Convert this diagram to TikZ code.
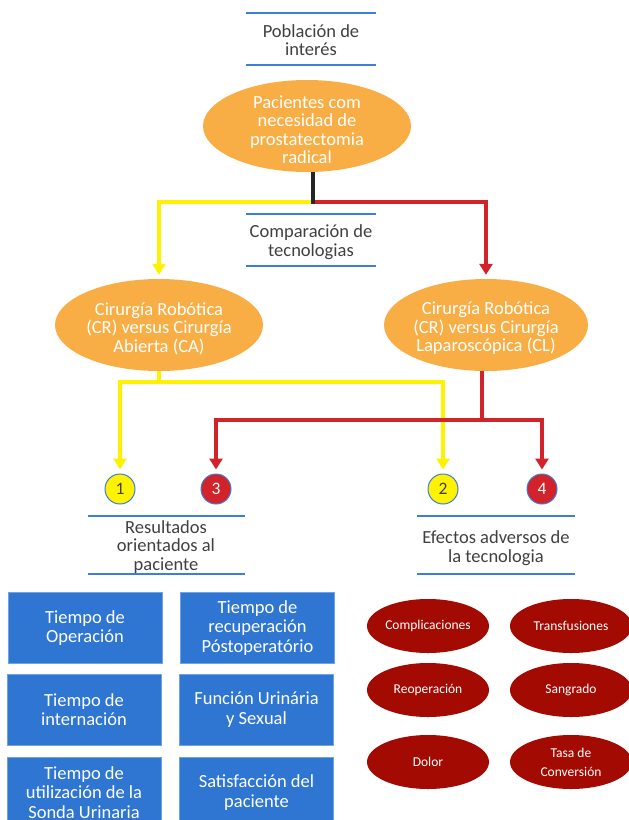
\documentclass[tikz,border=0pt]{standalone}
\usepackage{fontspec}
\setmainfont{Carlito}
\usetikzlibrary{shapes.geometric,arrows.meta}
\definecolor{orng}{HTML}{F9AE45}
\definecolor{ylw}{HTML}{FFF200}
\definecolor{rd}{HTML}{D2232A}
\definecolor{bl}{HTML}{3E7FD6}
\definecolor{boxc}{HTML}{2F76D3}
\definecolor{boxe}{HTML}{6FA3E8}
\definecolor{dred}{HTML}{A30B02}
\definecolor{txt}{HTML}{404040}
\begin{document}
\begin{tikzpicture}[x=1pt,y=-1pt,
  mainfont/.style={font=\fontsize{18.5}{18.5}\selectfont},
  lbl/.style={mainfont,align=center,text=txt,inner sep=0pt},
  bigell/.style={ellipse,fill=orng,minimum width=208,minimum height=92,inner sep=0pt},
  elltext/.style={mainfont,align=center,text=white,inner sep=0pt,yshift=-3.5pt},
  bluebox/.style={rectangle,fill=boxc,draw=boxe,line width=0.8pt,minimum width=154,minimum height=71,text=white,align=center,font=\fontsize{18.5}{19.5}\selectfont,inner sep=0pt},
  redell/.style={ellipse,fill=dred,minimum width=122,minimum height=54,text=white,align=center,font=\fontsize{13.5}{19}\selectfont,inner sep=-4pt},
  numy/.style={circle,fill=ylw,draw=bl,line width=1pt,minimum size=30,inner sep=0pt,text=txt,font=\fontsize{17.5}{18}\selectfont},
  numr/.style={circle,fill=rd,draw=bl,line width=1pt,minimum size=30,inner sep=0pt,text=white,font=\fontsize{17.5}{18}\selectfont},
  rule/.style={draw=bl,line width=2pt},
  yline/.style={draw=ylw,line width=4pt},
  rline/.style={draw=rd,line width=4pt},
  arr/.style={-{Triangle[width=13pt,length=11pt]},shorten >=4pt},
]
\useasboundingbox (0,0) rectangle (629,820);

% header labels with rules
\node[lbl] (pob) at (311,40) {Población de\\interés};
\coordinate (pobL1) at (246,13); \coordinate (pobR1) at (376,13);
\coordinate (pobL2) at (246,65); \coordinate (pobR2) at (376,65);
\draw[rule] (pobL1) -- (pobR1);
\draw[rule] (pobL2) -- (pobR2);

\node[lbl] (comp) at (311,242) {Comparación de\\tecnologias};
\coordinate (compL1) at (246,214); \coordinate (compR1) at (376,214);
\coordinate (compL2) at (246,266); \coordinate (compR2) at (376,266);
\draw[rule] (compL1) -- (compR1);
\draw[rule] (compL2) -- (compR2);

\node[lbl] (res) at (166,547) {Resultados\\orientados al\\paciente};
\coordinate (resL1) at (88,516); \coordinate (resR1) at (245,516);
\coordinate (resL2) at (88,574); \coordinate (resR2) at (245,574);
\draw[rule] (resL1) -- (resR1);
\draw[rule] (resL2) -- (resR2);

\node[lbl] (efe) at (496,548) {Efectos adversos de\\la tecnologia};
\coordinate (efeL1) at (417,516); \coordinate (efeR1) at (575,516);
\coordinate (efeL2) at (417,574); \coordinate (efeR2) at (575,574);
\draw[rule] (efeL1) -- (efeR1);
\draw[rule] (efeL2) -- (efeR2);

% ellipses
\node[bigell,label={[elltext]center:{Pacientes com\\necesidad de\\prostatectomia\\radical}}] (top) at (307,126) {};
\node[bigell,label={[elltext]center:{Cirurgía Robótica\\(CR) versus Cirurgía\\Abierta (CA)}}] (lell) at (159,325) {};
\node[bigell,minimum width=204,label={[elltext]center:{Cirurgía Robótica\\(CR) versus Cirurgía\\Laparoscópica (CL)}}] (rell) at (486,325) {};

% number circles
\node[numy] (c1) at (120,489) {1};
\node[numr] (c3) at (216,489) {3};
\node[numy] (c2) at (443,489) {2};
\node[numr] (c4) at (542,489) {4};

% connectors top
\coordinate (split) at (313,202);
\draw[yline,arr] (split) -| (lell.north);
\draw[rline,arr] (split) -| (rell.north);
\draw[black!85,line width=4pt] (split |- top.south) -- ([yshift=-2pt]split);

% connectors bottom
\coordinate (yj) at (159,382);
\coordinate (rj) at (482,420);
\draw[yline] (lell.south) -- (yj);
\draw[yline,arr] (yj) -| (c1.north);
\draw[yline,arr] (yj) -| (c2.north);
\draw[rline] (rj |- rell.south) -- (rj);
\draw[rline,arr] (rj) -| (c3.north);
\draw[rline,arr] (rj) -| (c4.north);

% blue boxes
\node[bluebox] (b1) at (85,628) {Tiempo de\\Operación};
\node[bluebox] (b2) at (257.5,628) {Tiempo de\\recuperación\\Póstoperatório};
\node[bluebox] (b3) at (84,709.5) {Tiempo de\\internación};
\node[bluebox] (b4) at (256.5,709.5) {Función Urinária\\y Sexual};
\node[bluebox] (b5) at (84,792.5) {Tiempo de\\utilización de la\\Sonda Urinaria};
\node[bluebox] (b6) at (256.5,792.5) {Satisfacción del\\paciente};

% red ellipses
\node[redell] (e1) at (428,626) {Complicaciones};
\node[redell] (e2) at (571,626) {Transfusiones};
\node[redell] (e3) at (428,690) {Reoperación};
\node[redell] (e4) at (571,690) {Sangrado};
\node[redell] (e5) at (428,762) {Dolor};
\node[redell] (e6) at (571,762) {Tasa de\\Conversión};
\end{tikzpicture}
\end{document}
